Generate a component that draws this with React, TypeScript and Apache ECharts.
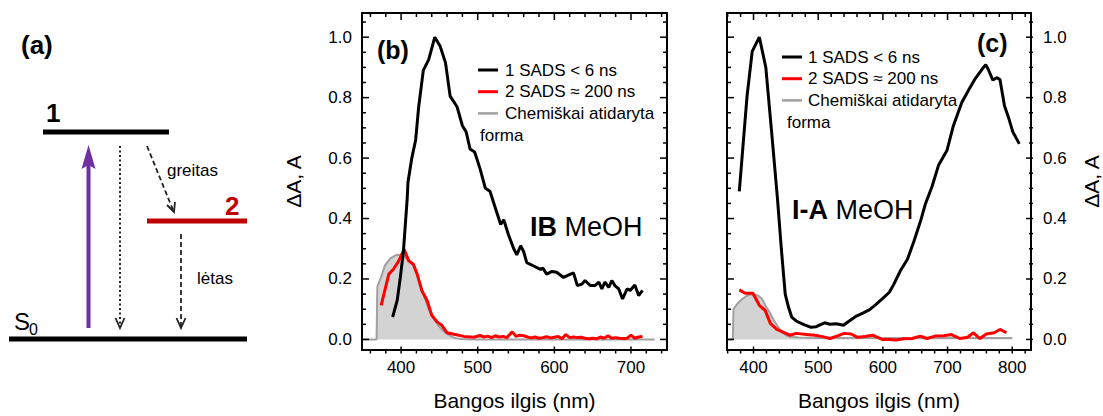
import React, { useEffect, useRef } from 'react';
import * as echarts from 'echarts';

// ---------- DATA ----------
// Panel (b): IB in MeOH  [wavelength nm, ΔA]
const ibSads1: [number, number][] = [
  [389, 0.074], [395, 0.13], [399, 0.205], [403, 0.29], [408, 0.467], [409, 0.52], [414, 0.6], [419, 0.66],
  [423, 0.77], [429, 0.89], [436, 0.926], [444, 1.0], [451, 0.97], [458, 0.915], [464, 0.805], [473, 0.77],
  [480, 0.707], [485, 0.686], [490, 0.63], [496, 0.62], [503, 0.565], [510, 0.5], [516, 0.49], [523, 0.435],
  [530, 0.38], [534, 0.396], [540, 0.347], [547, 0.3], [551, 0.28], [556, 0.31], [560, 0.29], [564, 0.254],
  [573, 0.243], [582, 0.232], [585, 0.236], [590, 0.216], [597, 0.225], [603, 0.222], [612, 0.205], [621, 0.216],
  [625, 0.22], [630, 0.178], [636, 0.183], [640, 0.195], [647, 0.178], [653, 0.178], [658, 0.19], [662, 0.167],
  [666, 0.19], [671, 0.172], [675, 0.195], [679, 0.178], [684, 0.167], [689, 0.134], [695, 0.167], [699, 0.162],
  [705, 0.18], [710, 0.145], [715, 0.162],
];
const ibSads2: [number, number][] = [
  [374, 0.113], [384, 0.216], [390, 0.232], [397, 0.26], [404, 0.298], [410, 0.26], [416, 0.249], [421, 0.216],
  [427, 0.162], [434, 0.129], [440, 0.08], [447, 0.058], [453, 0.047], [460, 0.022], [469, 0.017], [482, 0.01],
  [495, 0.007], [503, 0.013], [508, 0.008], [513, 0.011], [518, 0.006], [523, 0.012], [528, 0.008], [533, 0.01],
  [538, 0.006], [545, 0.025], [550, 0.01], [555, 0.014], [560, 0.012], [565, 0.008], [570, 0.005], [575, 0.008],
  [580, 0.004], [585, 0.006], [590, 0.009], [595, 0.005], [600, 0.007], [605, 0.01], [610, 0.002], [615, 0.016],
  [620, 0.006], [625, 0.008], [630, 0.006], [635, 0.007], [640, 0.004], [645, 0.002], [650, 0.004], [655, 0.002],
  [660, 0.008], [665, 0.004], [670, 0.012], [675, 0.004], [680, 0.006], [685, 0.004], [690, 0.003], [695, 0.004],
  [700, 0.014], [705, 0.004], [710, 0.008], [715, 0.01],
];
const ibOpened: [number, number][] = [
  [350, 0], [368, 0], [369, 0.175], [373, 0.2], [379, 0.245], [386, 0.268], [394, 0.28], [402, 0.278],
  [409, 0.265], [416, 0.245], [423, 0.2], [429, 0.15], [436, 0.1], [442, 0.07], [449, 0.045], [455, 0.028],
  [462, 0.015], [469, 0.006], [478, 0.001], [490, 0], [600, 0], [731, 0],
];

// Panel (c): I-A in MeOH
const iaSads1: [number, number][] = [
  [378, 0.49], [390, 0.805], [398, 0.953], [409, 1.0], [419, 0.9], [428, 0.686], [437, 0.467], [443, 0.3],
  [449, 0.15], [454, 0.107], [459, 0.074], [466, 0.061], [477, 0.05], [489, 0.04], [497, 0.042], [502, 0.047],
  [510, 0.055], [518, 0.05], [528, 0.052], [539, 0.047], [548, 0.061], [558, 0.076], [569, 0.087], [579, 0.098],
  [589, 0.115], [599, 0.134], [610, 0.156], [617, 0.183], [627, 0.227], [638, 0.265], [648, 0.325], [658, 0.39],
  [666, 0.45], [676, 0.506], [686, 0.576], [699, 0.625], [709, 0.707], [722, 0.784], [733, 0.827], [742, 0.86],
  [753, 0.893], [759, 0.909], [763, 0.893], [770, 0.858], [776, 0.866], [781, 0.86], [788, 0.773], [795, 0.729],
  [801, 0.686], [811, 0.647],
];
const iaSads2: [number, number][] = [
  [378, 0.164], [387, 0.153], [399, 0.153], [409, 0.113], [418, 0.096], [426, 0.053], [436, 0.033], [445, 0.025],
  [456, 0.014], [466, 0.02], [482, 0.016], [495, 0.014], [505, 0.01], [518, 0.003], [530, 0.012], [540, 0.02],
  [551, 0.018], [561, 0.007], [572, 0.01], [584, 0.014], [599, 0.0], [610, 0.0], [620, -0.002], [633, 0.002],
  [645, 0.003], [658, 0.011], [668, 0.003], [681, 0.011], [694, 0.012], [706, 0.016], [719, 0.003], [731, 0.007],
  [740, 0.022], [750, 0.003], [760, 0.018], [772, 0.022], [781, 0.033], [791, 0.022],
];
const iaOpened: [number, number][] = [
  [360, 0], [368, 0], [369, 0.1], [375, 0.118], [382, 0.133], [390, 0.145], [400, 0.15], [407, 0.145],
  [413, 0.135], [419, 0.11], [426, 0.086], [431, 0.065], [436, 0.048], [441, 0.032], [446, 0.02], [451, 0.013],
  [456, 0.009], [470, 0.006], [500, 0.005], [600, 0.005], [700, 0.005], [800, 0.005],
];

const legendLabels = ['1 SADS < 6 ns', '2 SADS \u2248 200 ns', 'Chemiškai atidaryta', 'forma'];
const xTitle = 'Bangos ilgis (nm)';
const yTitle = '\u0394A, A';
const panelLetters = ['(a)', '(b)', '(c)'];
const sampleNames = ['IB', 'I-A'];
const solvent = 'MeOH';
const levelLabels = ['1', '2', 'S', '0'];
const processLabels = ['greitas', 'lėtas'];

// axis ranges / tick steps
const xRangeB = [349, 747];
const xRangeC = [359, 829];
const yRange = [-0.035, 1.08];
const xMajor = 100, xMinor = 20, yMajor = 0.2, yMinor = 0.05;

// ---------- LAYOUT / STYLE ----------
const GRID_B = { left: 362, top: 13, width: 305, height: 340.5 };
const GRID_C = { left: 727, top: 13, width: 306, height: 340.5 };
const FONT = "'Liberation Sans', Arial, sans-serif";
const BLACK = '#000000';
const RED = '#ff0000';
const GRAYLINE = '#a0a0a0';
const GRAYFILL = '#d3d3d3';
const DARKRED = '#c00000';
const PURPLE = '#7030a0';

function isMult(v: number, step: number) {
  const r = v / step;
  return Math.abs(r - Math.round(r)) < 1e-6;
}

// tick values inside a range: [value, isMajor]
function tickValues(r: number[], major: number, minor: number): [number, boolean][] {
  const out: [number, boolean][] = [];
  const n0 = Math.ceil((r[0] + 1e-9) / minor);
  const n1 = Math.floor((r[1] - 1e-9) / minor);
  for (let n = n0; n <= n1; n++) {
    const v = Math.round(n * minor * 1e6) / 1e6;
    out.push([v, isMult(v, major)]);
  }
  return out;
}

const lineOn = () => ({ show: true, onZero: false, lineStyle: { color: BLACK, width: 2 } });

function xAxesFor(grid: number, range: number[]) {
  const base: any = {
    type: 'value', gridIndex: grid, min: range[0], max: range[1], minInterval: xMajor, maxInterval: xMajor,
    splitLine: { show: false }, axisLine: lineOn(), axisTick: { show: false },
  };
  return [
    {
      ...base, position: 'bottom',
      axisLabel: {
        show: true, margin: 9, fontSize: 17, color: BLACK, fontFamily: FONT,
        formatter: (v: number) => (isMult(v, xMajor) ? String(Math.round(v)) : ''),
      },
      name: xTitle, nameLocation: 'middle', nameGap: 40,
      nameTextStyle: { fontSize: 21, color: BLACK, fontFamily: FONT },
    },
    { ...base, position: 'top', axisLabel: { show: false } },
  ];
}

function yAxesFor(grid: number, labelSide: 'left' | 'right') {
  const base: any = {
    type: 'value', gridIndex: grid, min: yRange[0], max: yRange[1], minInterval: yMajor, maxInterval: yMajor,
    splitLine: { show: false }, axisLine: lineOn(), axisTick: { show: false },
  };
  const other = labelSide === 'left' ? 'right' : 'left';
  return [
    {
      ...base, position: labelSide,
      axisLabel: {
        show: true, margin: labelSide === 'left' ? 10 : 12, fontSize: 17, color: BLACK, fontFamily: FONT,
        formatter: (v: number) => (isMult(v, yMajor) && v > -0.01 && v < 1.01 ? v.toFixed(1) : ''),
      },
      name: yTitle, nameLocation: 'middle', nameGap: labelSide === 'left' ? 58 : 50, nameRotate: 90,
      nameTextStyle: { fontSize: 21, color: BLACK, fontFamily: FONT },
    },
    { ...base, position: other, axisLabel: { show: false } },
  ];
}

function seriesFor(xi: number, yi: number, black: [number, number][], red: [number, number][], gray: [number, number][]) {
  return [
    {
      type: 'line', xAxisIndex: xi, yAxisIndex: yi, data: gray, symbol: 'none', z: 2,
      lineStyle: { color: GRAYLINE, width: 2 }, areaStyle: { color: GRAYFILL, opacity: 1 },
    },
    { type: 'line', xAxisIndex: xi, yAxisIndex: yi, data: red, symbol: 'none', z: 3, lineStyle: { color: RED, width: 3 } },
    { type: 'line', xAxisIndex: xi, yAxisIndex: yi, data: black, symbol: 'none', z: 4, lineStyle: { color: BLACK, width: 3 } },
  ];
}

function legendGraphics(lineX: number, textX: number, formaX: number, y0: number, dy: number) {
  const colors = [BLACK, RED, GRAYLINE];
  const widths = [3, 3, 2.5];
  const els: any[] = [];
  for (let i = 0; i < 3; i++) {
    const y = y0 + i * dy;
    els.push({ type: 'line', shape: { x1: lineX, y1: y, x2: lineX + 20, y2: y }, style: { stroke: colors[i], lineWidth: widths[i] } });
    els.push({ type: 'text', x: textX, y, style: { text: legendLabels[i], fill: BLACK, fontSize: 17, fontFamily: FONT, verticalAlign: 'middle', align: 'left' } });
  }
  els.push({ type: 'text', x: formaX, y: y0 + 3 * dy, style: { text: legendLabels[3], fill: BLACK, fontSize: 17, fontFamily: FONT, verticalAlign: 'middle', align: 'left' } });
  return els;
}

function diagramGraphics() {
  const t = (text: string, x: number, y: number, size: number, extra: any = {}) => ({
    type: 'text', x, y, style: { text, fill: BLACK, fontSize: size, fontFamily: FONT, verticalAlign: 'middle', align: 'left', ...extra },
  });
  const ln = (x1: number, y1: number, x2: number, y2: number, stroke: string, w: number, dash?: number[]) => ({
    type: 'line', shape: { x1, y1, x2, y2 }, style: { stroke, lineWidth: w, lineDash: dash },
  });
  const head = (pts: number[][]) => ({ type: 'polyline', shape: { points: pts }, style: { stroke: '#222', lineWidth: 1.8, fill: null } });
  return [
    t(panelLetters[0], 21, 45, 26, { fontWeight: 'bold' }),
    t(levelLabels[0], 46, 113, 26, { fontWeight: 'bold' }),
    t(levelLabels[1], 225, 206, 26, { fontWeight: 'bold', fill: DARKRED }),
    t(levelLabels[2], 14, 321, 24),
    t(levelLabels[3], 29, 329, 16),
    t(processLabels[0], 167, 170, 17),
    t(processLabels[1], 197, 278, 17),
    ln(43, 132, 169, 132, BLACK, 5),
    ln(147, 221, 247, 221, DARKRED, 5),
    ln(9, 339, 247, 339, BLACK, 5),
    ln(88.5, 328, 88.5, 165, PURPLE, 4),
    { type: 'polygon', shape: { points: [[88.5, 145], [81.5, 169], [88.5, 165], [95.5, 169]] }, style: { fill: PURPLE } },
    ln(120, 146, 120, 326, '#222', 2, [2, 2.5]),
    head([[115.5, 318], [120, 328], [124.5, 318]]),
    ln(147, 146, 173, 210, '#222', 1.8, [5, 3]),
    head([[175, 202], [174, 212], [167, 205]]),
    ln(181, 234, 181, 326, '#222', 1.8, [5, 3]),
    head([[176.5, 318], [181, 328], [185.5, 318]]),
  ];
}

// inward ticks for one panel as a polyline-free set of short lines
function tickGraphics(chart: any, xi: number, yi: number, xr: number[], g: { left: number; top: number; width: number; height: number }) {
  const els: any[] = [];
  const safe = (val: any, fallback: number) => {
    const n = Array.isArray(val) ? Number(val[0]) : Number(val);
    return Number.isFinite(n) ? n : fallback;
  };
  const px = (v: number) => {
    let r: any = null;
    try { r = chart.convertToPixel({ xAxisIndex: xi }, v); } catch (e) { r = null; }
    return safe(r, g.left + ((v - xr[0]) / (xr[1] - xr[0])) * g.width);
  };
  const py = (v: number) => {
    let r: any = null;
    try { r = chart.convertToPixel({ yAxisIndex: yi }, v); } catch (e) { r = null; }
    return safe(r, g.top + g.height - ((v - yRange[0]) / (yRange[1] - yRange[0])) * g.height);
  };
  const tl = (x1: number, y1: number, x2: number, y2: number) => ({
    type: 'rect', z: 60,
    shape: { x: Math.min(x1, x2) - (x1 === x2 ? 0.75 : 0), y: Math.min(y1, y2) - (y1 === y2 ? 0.75 : 0), width: x1 === x2 ? 1.5 : Math.abs(x2 - x1), height: y1 === y2 ? 1.5 : Math.abs(y2 - y1) },
    style: { fill: BLACK },
  });
  const left = g.left, right = g.left + g.width, top = g.top, bottom = g.top + g.height;
  for (const [v, major] of tickValues(xr, xMajor, xMinor)) {
    const len = major ? 7 : 4;
    const x = px(v);
    els.push(tl(x, bottom, x, bottom - len), tl(x, top, x, top + len));
  }
  for (const [v, major] of tickValues(yRange, yMajor, yMinor)) {
    const len = major ? 7 : 4;
    const y = py(v);
    els.push(tl(left, y, left + len, y), tl(right, y, right - len, y));
  }
  return els;
}

export default function App() {
  const ref = useRef<HTMLDivElement>(null);
  useEffect(() => {
    if (!ref.current) return;
    const chart = echarts.init(ref.current, undefined, { renderer: 'svg' });
    const xB = xAxesFor(0, xRangeB);
    const xC = xAxesFor(1, xRangeC);
    const yB = yAxesFor(0, 'left');
    const yC = yAxesFor(1, 'right');
    const baseGraphics: any[] = [
      ...diagramGraphics(),
      ...legendGraphics(478, 505, 480, 70, 21.7),
      ...legendGraphics(782, 808, 787, 57, 21.7),
      { type: 'text', x: 377, y: 50, style: { text: panelLetters[1], fill: BLACK, fontSize: 25, fontWeight: 'bold', fontFamily: FONT, verticalAlign: 'middle' } },
      { type: 'text', x: 977, y: 43, style: { text: panelLetters[2], fill: BLACK, fontSize: 25, fontWeight: 'bold', fontFamily: FONT, verticalAlign: 'middle' } },
      {
        type: 'text', x: 530, y: 227,
        style: {
          text: `{b|${sampleNames[0]}} ${solvent}`, fill: BLACK, fontSize: 27, fontFamily: FONT, verticalAlign: 'middle',
          rich: { b: { fontSize: 27, fontWeight: 'bold', fontFamily: FONT, fill: BLACK } },
        },
      },
      {
        type: 'text', x: 792, y: 210,
        style: {
          text: `{b|${sampleNames[1]}} ${solvent}`, fill: BLACK, fontSize: 27, fontFamily: FONT, verticalAlign: 'middle',
          rich: { b: { fontSize: 27, fontWeight: 'bold', fontFamily: FONT, fill: BLACK } },
        },
      },
    ];
    const option: any = {
      animation: false,
      backgroundColor: '#ffffff',
      textStyle: { fontFamily: FONT },
      grid: [
        { ...GRID_B, containLabel: false },
        { ...GRID_C, containLabel: false },
      ],
      xAxis: [...xB, ...xC],
      yAxis: [...yB, ...yC],
      series: [
        ...seriesFor(0, 0, ibSads1, ibSads2, ibOpened),
        ...seriesFor(xB.length, yB.length, iaSads1, iaSads2, iaOpened),
      ],
      graphic: baseGraphics,
    };
    chart.setOption(option);

    let ticks: any[] = [];
    try {
      ticks = [
        ...tickGraphics(chart, 0, 0, xRangeB, GRID_B),
        ...tickGraphics(chart, xB.length, yB.length, xRangeC, GRID_C),
      ];
    } catch (e) {
      ticks = [];
    }
    if (ticks.length) chart.setOption({ graphic: [...baseGraphics, ...ticks] });

    return () => chart.dispose();
  }, []);
  return <div ref={ref} style={{ position: 'absolute', left: 0, top: 0, width: 1103, height: 416 }} />;
}
